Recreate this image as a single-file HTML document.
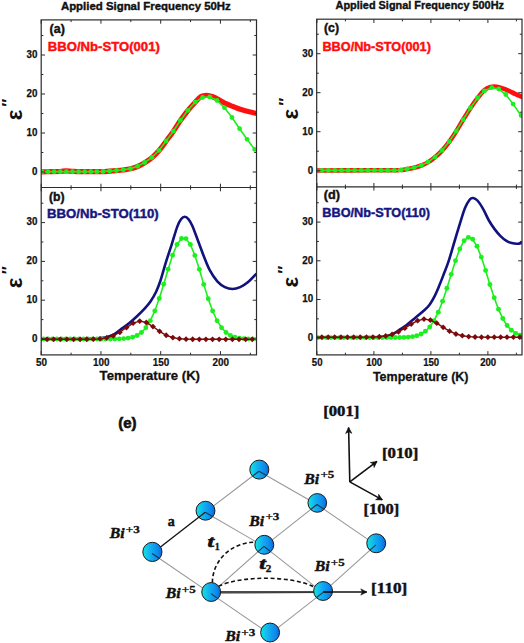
<!DOCTYPE html>
<html><head><meta charset="utf-8"><title>Figure</title>
<style>
html,body{margin:0;padding:0;background:#fff;}
body{width:524px;height:643px;overflow:hidden;font-family:"Liberation Sans",sans-serif;}
svg{display:block;}
</style></head><body>
<svg width="524" height="643" viewBox="0 0 524 643">
<rect width="524" height="643" fill="#fff"/>
<clipPath id="cl"><rect x="41.2" y="19.9" width="215.3" height="335.0"/></clipPath>
<clipPath id="cr"><rect x="316.7" y="19.2" width="205.3" height="335.7"/></clipPath>
<path d="M41.20,171.80 C42.67,171.78 46.87,171.75 50.00,171.70 C53.13,171.65 57.33,171.63 60.00,171.50 C62.67,171.37 64.00,170.93 66.00,170.90 C68.00,170.87 69.67,171.17 72.00,171.30 C74.33,171.43 76.17,171.65 80.00,171.70 C83.83,171.75 91.15,171.60 95.00,171.60 C98.85,171.60 100.67,171.78 103.10,171.70 C105.53,171.62 107.37,171.27 109.60,171.10 C111.83,170.93 114.20,170.88 116.50,170.70 C118.80,170.52 121.07,170.32 123.40,170.00 C125.73,169.68 128.13,169.38 130.50,168.80 C132.87,168.22 135.23,167.52 137.60,166.50 C139.97,165.48 142.32,164.17 144.70,162.70 C147.08,161.23 149.50,159.73 151.90,157.70 C154.30,155.67 156.73,153.25 159.10,150.50 C161.47,147.75 163.73,144.38 166.10,141.20 C168.47,138.02 170.92,134.83 173.30,131.40 C175.68,127.97 177.97,124.08 180.40,120.60 C182.83,117.12 185.43,113.55 187.90,110.50 C190.37,107.45 193.02,104.62 195.20,102.30 C197.38,99.98 199.08,97.75 201.00,96.60 C202.92,95.45 204.75,95.37 206.70,95.40 C208.65,95.43 210.58,96.03 212.70,96.80 C214.82,97.57 217.18,98.85 219.40,100.00 C221.62,101.15 223.78,102.63 226.00,103.70 C228.22,104.77 230.47,105.52 232.70,106.40 C234.93,107.28 237.17,108.23 239.40,109.00 C241.63,109.77 243.25,110.27 246.10,111.00 C248.95,111.73 254.77,113.00 256.50,113.40" fill="none" stroke="#ff1010" stroke-width="5.2" stroke-linecap="round" stroke-linejoin="round" clip-path="url(#cl)"/>
<g clip-path="url(#cl)"><path d="M42.00,171.70 L48.10,171.70 L54.20,171.70 L60.30,171.70 L66.40,171.70 L72.50,171.70 L78.60,171.70 L84.70,171.70 L90.80,171.70 L96.90,171.70 L103.10,171.50 L109.60,170.90 L116.50,170.50 L123.40,169.80 L130.50,168.60 L137.60,166.30 L144.70,162.50 L151.90,157.50 L159.10,150.30 L166.10,141.00 L173.30,131.20 L180.40,120.40 L187.90,110.30 L195.20,102.10 L202.60,97.50 L209.80,96.90 L217.00,100.50 L224.50,107.70 L232.00,117.50 L239.60,128.70 L247.10,139.30 L254.70,149.40" fill="none" stroke="#1cf01c" stroke-width="1.6"/>
<circle cx="42.00" cy="171.70" r="2.4" fill="#1cf01c"/>
<circle cx="48.10" cy="171.70" r="2.4" fill="#1cf01c"/>
<circle cx="54.20" cy="171.70" r="2.4" fill="#1cf01c"/>
<circle cx="60.30" cy="171.70" r="2.4" fill="#1cf01c"/>
<circle cx="66.40" cy="171.70" r="2.4" fill="#1cf01c"/>
<circle cx="72.50" cy="171.70" r="2.4" fill="#1cf01c"/>
<circle cx="78.60" cy="171.70" r="2.4" fill="#1cf01c"/>
<circle cx="84.70" cy="171.70" r="2.4" fill="#1cf01c"/>
<circle cx="90.80" cy="171.70" r="2.4" fill="#1cf01c"/>
<circle cx="96.90" cy="171.70" r="2.4" fill="#1cf01c"/>
<circle cx="103.10" cy="171.50" r="2.4" fill="#1cf01c"/>
<circle cx="109.60" cy="170.90" r="2.4" fill="#1cf01c"/>
<circle cx="116.50" cy="170.50" r="2.4" fill="#1cf01c"/>
<circle cx="123.40" cy="169.80" r="2.4" fill="#1cf01c"/>
<circle cx="130.50" cy="168.60" r="2.4" fill="#1cf01c"/>
<circle cx="137.60" cy="166.30" r="2.4" fill="#1cf01c"/>
<circle cx="144.70" cy="162.50" r="2.4" fill="#1cf01c"/>
<circle cx="151.90" cy="157.50" r="2.4" fill="#1cf01c"/>
<circle cx="159.10" cy="150.30" r="2.4" fill="#1cf01c"/>
<circle cx="166.10" cy="141.00" r="2.4" fill="#1cf01c"/>
<circle cx="173.30" cy="131.20" r="2.4" fill="#1cf01c"/>
<circle cx="180.40" cy="120.40" r="2.4" fill="#1cf01c"/>
<circle cx="187.90" cy="110.30" r="2.4" fill="#1cf01c"/>
<circle cx="195.20" cy="102.10" r="2.4" fill="#1cf01c"/>
<circle cx="202.60" cy="97.50" r="2.4" fill="#1cf01c"/>
<circle cx="209.80" cy="96.90" r="2.4" fill="#1cf01c"/>
<circle cx="217.00" cy="100.50" r="2.4" fill="#1cf01c"/>
<circle cx="224.50" cy="107.70" r="2.4" fill="#1cf01c"/>
<circle cx="232.00" cy="117.50" r="2.4" fill="#1cf01c"/>
<circle cx="239.60" cy="128.70" r="2.4" fill="#1cf01c"/>
<circle cx="247.10" cy="139.30" r="2.4" fill="#1cf01c"/>
<circle cx="254.70" cy="149.40" r="2.4" fill="#1cf01c"/>
</g>
<path d="M316.90,170.50 C322.42,170.48 336.98,170.45 350.00,170.40 C363.02,170.35 386.52,170.23 395.00,170.20 C403.48,170.17 398.88,170.38 400.90,170.20 C402.92,170.02 404.88,169.50 407.10,169.10 C409.32,168.70 411.83,168.40 414.20,167.80 C416.57,167.20 419.02,166.40 421.30,165.50 C423.58,164.60 425.62,163.78 427.90,162.40 C430.18,161.02 432.63,159.17 435.00,157.20 C437.37,155.23 439.73,153.17 442.10,150.60 C444.47,148.03 446.83,145.03 449.20,141.80 C451.57,138.57 453.98,134.87 456.30,131.20 C458.62,127.53 460.75,123.63 463.10,119.80 C465.45,115.97 468.00,111.80 470.40,108.20 C472.80,104.60 475.15,101.23 477.50,98.20 C479.85,95.17 482.33,91.87 484.50,90.00 C486.67,88.13 488.48,87.53 490.50,87.00 C492.52,86.47 494.57,86.57 496.60,86.80 C498.63,87.03 500.65,87.72 502.70,88.40 C504.75,89.08 506.85,89.98 508.90,90.90 C510.95,91.82 512.82,92.90 515.00,93.90 C517.18,94.90 520.83,96.40 522.00,96.90" fill="none" stroke="#ff1010" stroke-width="4.6" stroke-linecap="round" stroke-linejoin="round" clip-path="url(#cr)"/>
<g clip-path="url(#cr)"><path d="M315.10,170.40 L321.70,170.40 L328.30,170.40 L334.90,170.40 L341.50,170.40 L348.10,170.40 L354.70,170.40 L361.30,170.40 L367.90,170.40 L374.50,170.40 L381.10,170.40 L387.70,170.40 L394.30,170.40 L400.90,170.00 L407.10,168.90 L414.20,167.60 L421.30,165.30 L427.90,162.20 L435.00,157.00 L442.10,150.40 L449.20,141.60 L456.30,131.00 L463.10,119.60 L470.40,108.00 L477.50,98.00 L484.40,90.90 L491.80,87.60 L498.80,89.00 L505.80,94.50 L513.10,104.10 L521.10,115.50" fill="none" stroke="#1cf01c" stroke-width="1.6"/>
<circle cx="315.10" cy="170.40" r="2.4" fill="#1cf01c"/>
<circle cx="321.70" cy="170.40" r="2.4" fill="#1cf01c"/>
<circle cx="328.30" cy="170.40" r="2.4" fill="#1cf01c"/>
<circle cx="334.90" cy="170.40" r="2.4" fill="#1cf01c"/>
<circle cx="341.50" cy="170.40" r="2.4" fill="#1cf01c"/>
<circle cx="348.10" cy="170.40" r="2.4" fill="#1cf01c"/>
<circle cx="354.70" cy="170.40" r="2.4" fill="#1cf01c"/>
<circle cx="361.30" cy="170.40" r="2.4" fill="#1cf01c"/>
<circle cx="367.90" cy="170.40" r="2.4" fill="#1cf01c"/>
<circle cx="374.50" cy="170.40" r="2.4" fill="#1cf01c"/>
<circle cx="381.10" cy="170.40" r="2.4" fill="#1cf01c"/>
<circle cx="387.70" cy="170.40" r="2.4" fill="#1cf01c"/>
<circle cx="394.30" cy="170.40" r="2.4" fill="#1cf01c"/>
<circle cx="400.90" cy="170.00" r="2.4" fill="#1cf01c"/>
<circle cx="407.10" cy="168.90" r="2.4" fill="#1cf01c"/>
<circle cx="414.20" cy="167.60" r="2.4" fill="#1cf01c"/>
<circle cx="421.30" cy="165.30" r="2.4" fill="#1cf01c"/>
<circle cx="427.90" cy="162.20" r="2.4" fill="#1cf01c"/>
<circle cx="435.00" cy="157.00" r="2.4" fill="#1cf01c"/>
<circle cx="442.10" cy="150.40" r="2.4" fill="#1cf01c"/>
<circle cx="449.20" cy="141.60" r="2.4" fill="#1cf01c"/>
<circle cx="456.30" cy="131.00" r="2.4" fill="#1cf01c"/>
<circle cx="463.10" cy="119.60" r="2.4" fill="#1cf01c"/>
<circle cx="470.40" cy="108.00" r="2.4" fill="#1cf01c"/>
<circle cx="477.50" cy="98.00" r="2.4" fill="#1cf01c"/>
<circle cx="484.40" cy="90.90" r="2.4" fill="#1cf01c"/>
<circle cx="491.80" cy="87.60" r="2.4" fill="#1cf01c"/>
<circle cx="498.80" cy="89.00" r="2.4" fill="#1cf01c"/>
<circle cx="505.80" cy="94.50" r="2.4" fill="#1cf01c"/>
<circle cx="513.10" cy="104.10" r="2.4" fill="#1cf01c"/>
<circle cx="521.10" cy="115.50" r="2.4" fill="#1cf01c"/>
</g>
<path d="M41.20,339.00 C47.67,339.00 71.03,339.08 80.00,339.00 C88.97,338.92 91.17,338.68 95.00,338.50 C98.83,338.32 100.83,338.22 103.00,337.90 C105.17,337.58 106.15,337.18 108.00,336.60 C109.85,336.02 111.82,335.73 114.10,334.40 C116.38,333.07 119.15,330.52 121.70,328.60 C124.25,326.68 126.85,324.97 129.40,322.90 C131.95,320.83 134.47,318.58 137.00,316.20 C139.53,313.82 142.35,311.05 144.60,308.60 C146.85,306.15 148.60,304.27 150.50,301.50 C152.40,298.73 154.33,295.50 156.00,292.00 C157.67,288.50 158.88,285.37 160.50,280.50 C162.12,275.63 163.87,268.70 165.70,262.80 C167.53,256.90 169.58,251.08 171.50,245.10 C173.42,239.12 175.62,231.20 177.20,226.90 C178.78,222.60 179.73,220.98 181.00,219.30 C182.27,217.62 183.53,216.80 184.80,216.80 C186.07,216.80 187.33,217.77 188.60,219.30 C189.87,220.83 190.80,222.33 192.40,226.00 C194.00,229.67 196.28,236.22 198.20,241.30 C200.12,246.38 202.00,251.73 203.90,256.50 C205.80,261.27 207.37,265.77 209.60,269.90 C211.83,274.03 214.75,278.43 217.30,281.30 C219.85,284.17 222.37,285.82 224.90,287.10 C227.43,288.38 229.95,289.00 232.50,289.00 C235.05,289.00 237.65,288.22 240.20,287.10 C242.75,285.98 245.08,284.55 247.80,282.30 C250.52,280.05 255.05,275.05 256.50,273.60" fill="none" stroke="#12127e" stroke-width="2.6" stroke-linejoin="round" clip-path="url(#cl)"/>
<g clip-path="url(#cl)"><path d="M43.55,339.00 L48.00,339.00 L52.45,339.00 L56.90,339.00 L61.35,339.00 L65.80,339.00 L70.25,339.00 L74.70,339.00 L79.15,339.00 L83.60,339.00 L88.05,339.00 L92.50,339.00 L96.95,339.00 L101.40,339.00 L105.85,338.99 L110.30,338.97 L114.75,338.93 L119.20,338.83 L123.65,338.60 L128.10,338.12 L132.55,337.17 L137.00,335.44 L141.45,332.46 L145.90,327.71 L150.35,320.64 L154.80,310.91 L159.25,298.57 L163.70,284.23 L168.15,269.17 L172.60,255.24 L177.05,244.44 L181.50,238.55 L185.95,238.58 L190.40,244.54 L194.85,255.38 L199.30,269.34 L203.75,284.39 L208.20,298.72 L212.65,311.04 L217.10,320.73 L221.55,327.77 L226.00,332.50 L230.45,335.46 L234.90,337.19 L239.35,338.13 L243.80,338.60 L248.25,338.83 L252.70,338.93 L257.15,338.97" fill="none" stroke="#1cf01c" stroke-width="1.6"/>
<circle cx="43.55" cy="339.00" r="2.45" fill="#1cf01c"/>
<circle cx="48.00" cy="339.00" r="2.45" fill="#1cf01c"/>
<circle cx="52.45" cy="339.00" r="2.45" fill="#1cf01c"/>
<circle cx="56.90" cy="339.00" r="2.45" fill="#1cf01c"/>
<circle cx="61.35" cy="339.00" r="2.45" fill="#1cf01c"/>
<circle cx="65.80" cy="339.00" r="2.45" fill="#1cf01c"/>
<circle cx="70.25" cy="339.00" r="2.45" fill="#1cf01c"/>
<circle cx="74.70" cy="339.00" r="2.45" fill="#1cf01c"/>
<circle cx="79.15" cy="339.00" r="2.45" fill="#1cf01c"/>
<circle cx="83.60" cy="339.00" r="2.45" fill="#1cf01c"/>
<circle cx="88.05" cy="339.00" r="2.45" fill="#1cf01c"/>
<circle cx="92.50" cy="339.00" r="2.45" fill="#1cf01c"/>
<circle cx="96.95" cy="339.00" r="2.45" fill="#1cf01c"/>
<circle cx="101.40" cy="339.00" r="2.45" fill="#1cf01c"/>
<circle cx="105.85" cy="338.99" r="2.45" fill="#1cf01c"/>
<circle cx="110.30" cy="338.97" r="2.45" fill="#1cf01c"/>
<circle cx="114.75" cy="338.93" r="2.45" fill="#1cf01c"/>
<circle cx="119.20" cy="338.83" r="2.45" fill="#1cf01c"/>
<circle cx="123.65" cy="338.60" r="2.45" fill="#1cf01c"/>
<circle cx="128.10" cy="338.12" r="2.45" fill="#1cf01c"/>
<circle cx="132.55" cy="337.17" r="2.45" fill="#1cf01c"/>
<circle cx="137.00" cy="335.44" r="2.45" fill="#1cf01c"/>
<circle cx="141.45" cy="332.46" r="2.45" fill="#1cf01c"/>
<circle cx="145.90" cy="327.71" r="2.45" fill="#1cf01c"/>
<circle cx="150.35" cy="320.64" r="2.45" fill="#1cf01c"/>
<circle cx="154.80" cy="310.91" r="2.45" fill="#1cf01c"/>
<circle cx="159.25" cy="298.57" r="2.45" fill="#1cf01c"/>
<circle cx="163.70" cy="284.23" r="2.45" fill="#1cf01c"/>
<circle cx="168.15" cy="269.17" r="2.45" fill="#1cf01c"/>
<circle cx="172.60" cy="255.24" r="2.45" fill="#1cf01c"/>
<circle cx="177.05" cy="244.44" r="2.45" fill="#1cf01c"/>
<circle cx="181.50" cy="238.55" r="2.45" fill="#1cf01c"/>
<circle cx="185.95" cy="238.58" r="2.45" fill="#1cf01c"/>
<circle cx="190.40" cy="244.54" r="2.45" fill="#1cf01c"/>
<circle cx="194.85" cy="255.38" r="2.45" fill="#1cf01c"/>
<circle cx="199.30" cy="269.34" r="2.45" fill="#1cf01c"/>
<circle cx="203.75" cy="284.39" r="2.45" fill="#1cf01c"/>
<circle cx="208.20" cy="298.72" r="2.45" fill="#1cf01c"/>
<circle cx="212.65" cy="311.04" r="2.45" fill="#1cf01c"/>
<circle cx="217.10" cy="320.73" r="2.45" fill="#1cf01c"/>
<circle cx="221.55" cy="327.77" r="2.45" fill="#1cf01c"/>
<circle cx="226.00" cy="332.50" r="2.45" fill="#1cf01c"/>
<circle cx="230.45" cy="335.46" r="2.45" fill="#1cf01c"/>
<circle cx="234.90" cy="337.19" r="2.45" fill="#1cf01c"/>
<circle cx="239.35" cy="338.13" r="2.45" fill="#1cf01c"/>
<circle cx="243.80" cy="338.60" r="2.45" fill="#1cf01c"/>
<circle cx="248.25" cy="338.83" r="2.45" fill="#1cf01c"/>
<circle cx="252.70" cy="338.93" r="2.45" fill="#1cf01c"/>
<circle cx="257.15" cy="338.97" r="2.45" fill="#1cf01c"/>
</g>
<g clip-path="url(#cl)"><path d="M40.42,339.30 L47.04,339.30 L53.66,339.30 L60.28,339.30 L66.90,339.30 L73.52,339.30 L80.14,339.30 L86.76,339.27 L93.38,339.18 L100.00,338.84 L106.62,337.92 L113.24,335.86 L119.86,332.28 L126.48,327.55 L133.10,323.16 L139.72,321.12 L146.34,322.49 L152.96,326.55 L159.58,331.37 L166.20,335.25 L172.82,337.60 L179.44,338.72 L186.06,339.14 L192.68,339.26 L199.30,339.29 L205.92,339.30 L212.54,339.30 L219.16,339.30 L225.78,339.30 L232.40,339.30 L239.02,339.30 L245.64,339.30 L252.26,339.30" fill="none" stroke="#7c0a0a" stroke-width="1.4"/>
<path d="M40.42,336.40 L43.32,339.30 L40.42,342.20 L37.52,339.30Z" fill="#7c0a0a"/>
<path d="M47.04,336.40 L49.94,339.30 L47.04,342.20 L44.14,339.30Z" fill="#7c0a0a"/>
<path d="M53.66,336.40 L56.56,339.30 L53.66,342.20 L50.76,339.30Z" fill="#7c0a0a"/>
<path d="M60.28,336.40 L63.18,339.30 L60.28,342.20 L57.38,339.30Z" fill="#7c0a0a"/>
<path d="M66.90,336.40 L69.80,339.30 L66.90,342.20 L64.00,339.30Z" fill="#7c0a0a"/>
<path d="M73.52,336.40 L76.42,339.30 L73.52,342.20 L70.62,339.30Z" fill="#7c0a0a"/>
<path d="M80.14,336.40 L83.04,339.30 L80.14,342.20 L77.24,339.30Z" fill="#7c0a0a"/>
<path d="M86.76,336.37 L89.66,339.27 L86.76,342.17 L83.86,339.27Z" fill="#7c0a0a"/>
<path d="M93.38,336.28 L96.28,339.18 L93.38,342.08 L90.48,339.18Z" fill="#7c0a0a"/>
<path d="M100.00,335.94 L102.90,338.84 L100.00,341.74 L97.10,338.84Z" fill="#7c0a0a"/>
<path d="M106.62,335.02 L109.52,337.92 L106.62,340.82 L103.72,337.92Z" fill="#7c0a0a"/>
<path d="M113.24,332.96 L116.14,335.86 L113.24,338.76 L110.34,335.86Z" fill="#7c0a0a"/>
<path d="M119.86,329.38 L122.76,332.28 L119.86,335.18 L116.96,332.28Z" fill="#7c0a0a"/>
<path d="M126.48,324.65 L129.38,327.55 L126.48,330.45 L123.58,327.55Z" fill="#7c0a0a"/>
<path d="M133.10,320.26 L136.00,323.16 L133.10,326.06 L130.20,323.16Z" fill="#7c0a0a"/>
<path d="M139.72,318.22 L142.62,321.12 L139.72,324.02 L136.82,321.12Z" fill="#7c0a0a"/>
<path d="M146.34,319.59 L149.24,322.49 L146.34,325.39 L143.44,322.49Z" fill="#7c0a0a"/>
<path d="M152.96,323.65 L155.86,326.55 L152.96,329.45 L150.06,326.55Z" fill="#7c0a0a"/>
<path d="M159.58,328.47 L162.48,331.37 L159.58,334.27 L156.68,331.37Z" fill="#7c0a0a"/>
<path d="M166.20,332.35 L169.10,335.25 L166.20,338.15 L163.30,335.25Z" fill="#7c0a0a"/>
<path d="M172.82,334.70 L175.72,337.60 L172.82,340.50 L169.92,337.60Z" fill="#7c0a0a"/>
<path d="M179.44,335.82 L182.34,338.72 L179.44,341.62 L176.54,338.72Z" fill="#7c0a0a"/>
<path d="M186.06,336.24 L188.96,339.14 L186.06,342.04 L183.16,339.14Z" fill="#7c0a0a"/>
<path d="M192.68,336.36 L195.58,339.26 L192.68,342.16 L189.78,339.26Z" fill="#7c0a0a"/>
<path d="M199.30,336.39 L202.20,339.29 L199.30,342.19 L196.40,339.29Z" fill="#7c0a0a"/>
<path d="M205.92,336.40 L208.82,339.30 L205.92,342.20 L203.02,339.30Z" fill="#7c0a0a"/>
<path d="M212.54,336.40 L215.44,339.30 L212.54,342.20 L209.64,339.30Z" fill="#7c0a0a"/>
<path d="M219.16,336.40 L222.06,339.30 L219.16,342.20 L216.26,339.30Z" fill="#7c0a0a"/>
<path d="M225.78,336.40 L228.68,339.30 L225.78,342.20 L222.88,339.30Z" fill="#7c0a0a"/>
<path d="M232.40,336.40 L235.30,339.30 L232.40,342.20 L229.50,339.30Z" fill="#7c0a0a"/>
<path d="M239.02,336.40 L241.92,339.30 L239.02,342.20 L236.12,339.30Z" fill="#7c0a0a"/>
<path d="M245.64,336.40 L248.54,339.30 L245.64,342.20 L242.74,339.30Z" fill="#7c0a0a"/>
<path d="M252.26,336.40 L255.16,339.30 L252.26,342.20 L249.36,339.30Z" fill="#7c0a0a"/>
</g>
<path d="M316.90,337.60 C325.75,337.58 359.15,337.62 370.00,337.50 C380.85,337.38 378.82,337.22 382.00,336.90 C385.18,336.58 386.97,336.27 389.10,335.60 C391.23,334.93 392.90,333.98 394.80,332.90 C396.70,331.82 398.58,330.37 400.50,329.10 C402.42,327.83 404.38,326.73 406.30,325.30 C408.22,323.87 410.10,322.08 412.00,320.50 C413.90,318.92 415.80,317.38 417.70,315.80 C419.60,314.22 421.48,312.75 423.40,311.00 C425.32,309.25 427.28,307.85 429.20,305.30 C431.12,302.75 433.35,298.67 434.90,295.70 C436.45,292.73 437.13,290.80 438.50,287.50 C439.87,284.20 441.38,280.38 443.10,275.90 C444.82,271.42 446.90,266.33 448.80,260.60 C450.70,254.87 452.58,247.87 454.50,241.50 C456.42,235.13 458.55,227.97 460.30,222.40 C462.05,216.83 463.42,211.92 465.00,208.10 C466.58,204.28 468.43,201.18 469.80,199.50 C471.17,197.82 471.93,197.83 473.20,198.00 C474.47,198.17 475.73,198.65 477.40,200.50 C479.07,202.35 481.28,205.77 483.20,209.10 C485.12,212.43 487.00,217.17 488.90,220.50 C490.80,223.83 492.70,226.55 494.60,229.10 C496.50,231.65 498.38,233.88 500.30,235.80 C502.22,237.72 504.18,239.38 506.10,240.60 C508.02,241.82 509.90,242.57 511.80,243.10 C513.70,243.63 515.80,243.87 517.50,243.80 C519.20,243.73 521.25,242.88 522.00,242.70" fill="none" stroke="#12127e" stroke-width="2.6" stroke-linejoin="round" clip-path="url(#cr)"/>
<g clip-path="url(#cr)"><path d="M317.90,337.60 L322.20,337.60 L326.50,337.60 L330.80,337.60 L335.10,337.60 L339.40,337.60 L343.70,337.60 L348.00,337.60 L352.30,337.60 L356.60,337.60 L360.90,337.60 L365.20,337.60 L369.50,337.60 L373.80,337.60 L378.10,337.60 L382.40,337.60 L386.70,337.59 L391.00,337.59 L395.30,337.56 L399.60,337.51 L403.90,337.39 L408.20,337.14 L412.50,336.63 L416.80,335.69 L421.10,334.04 L425.40,331.28 L429.70,326.99 L434.00,320.72 L438.30,312.14 L442.60,301.21 L446.90,288.31 L451.20,274.34 L455.50,260.66 L459.80,248.92 L464.10,240.74 L468.40,237.35 L472.70,239.28 L477.00,246.22 L481.30,257.11 L485.60,270.42 L489.90,284.47 L494.20,297.78 L498.50,309.32 L502.80,318.56 L507.10,325.46 L511.40,330.26 L515.70,333.40 L520.00,335.32" fill="none" stroke="#1cf01c" stroke-width="1.6"/>
<circle cx="317.90" cy="337.60" r="2.45" fill="#1cf01c"/>
<circle cx="322.20" cy="337.60" r="2.45" fill="#1cf01c"/>
<circle cx="326.50" cy="337.60" r="2.45" fill="#1cf01c"/>
<circle cx="330.80" cy="337.60" r="2.45" fill="#1cf01c"/>
<circle cx="335.10" cy="337.60" r="2.45" fill="#1cf01c"/>
<circle cx="339.40" cy="337.60" r="2.45" fill="#1cf01c"/>
<circle cx="343.70" cy="337.60" r="2.45" fill="#1cf01c"/>
<circle cx="348.00" cy="337.60" r="2.45" fill="#1cf01c"/>
<circle cx="352.30" cy="337.60" r="2.45" fill="#1cf01c"/>
<circle cx="356.60" cy="337.60" r="2.45" fill="#1cf01c"/>
<circle cx="360.90" cy="337.60" r="2.45" fill="#1cf01c"/>
<circle cx="365.20" cy="337.60" r="2.45" fill="#1cf01c"/>
<circle cx="369.50" cy="337.60" r="2.45" fill="#1cf01c"/>
<circle cx="373.80" cy="337.60" r="2.45" fill="#1cf01c"/>
<circle cx="378.10" cy="337.60" r="2.45" fill="#1cf01c"/>
<circle cx="382.40" cy="337.60" r="2.45" fill="#1cf01c"/>
<circle cx="386.70" cy="337.59" r="2.45" fill="#1cf01c"/>
<circle cx="391.00" cy="337.59" r="2.45" fill="#1cf01c"/>
<circle cx="395.30" cy="337.56" r="2.45" fill="#1cf01c"/>
<circle cx="399.60" cy="337.51" r="2.45" fill="#1cf01c"/>
<circle cx="403.90" cy="337.39" r="2.45" fill="#1cf01c"/>
<circle cx="408.20" cy="337.14" r="2.45" fill="#1cf01c"/>
<circle cx="412.50" cy="336.63" r="2.45" fill="#1cf01c"/>
<circle cx="416.80" cy="335.69" r="2.45" fill="#1cf01c"/>
<circle cx="421.10" cy="334.04" r="2.45" fill="#1cf01c"/>
<circle cx="425.40" cy="331.28" r="2.45" fill="#1cf01c"/>
<circle cx="429.70" cy="326.99" r="2.45" fill="#1cf01c"/>
<circle cx="434.00" cy="320.72" r="2.45" fill="#1cf01c"/>
<circle cx="438.30" cy="312.14" r="2.45" fill="#1cf01c"/>
<circle cx="442.60" cy="301.21" r="2.45" fill="#1cf01c"/>
<circle cx="446.90" cy="288.31" r="2.45" fill="#1cf01c"/>
<circle cx="451.20" cy="274.34" r="2.45" fill="#1cf01c"/>
<circle cx="455.50" cy="260.66" r="2.45" fill="#1cf01c"/>
<circle cx="459.80" cy="248.92" r="2.45" fill="#1cf01c"/>
<circle cx="464.10" cy="240.74" r="2.45" fill="#1cf01c"/>
<circle cx="468.40" cy="237.35" r="2.45" fill="#1cf01c"/>
<circle cx="472.70" cy="239.28" r="2.45" fill="#1cf01c"/>
<circle cx="477.00" cy="246.22" r="2.45" fill="#1cf01c"/>
<circle cx="481.30" cy="257.11" r="2.45" fill="#1cf01c"/>
<circle cx="485.60" cy="270.42" r="2.45" fill="#1cf01c"/>
<circle cx="489.90" cy="284.47" r="2.45" fill="#1cf01c"/>
<circle cx="494.20" cy="297.78" r="2.45" fill="#1cf01c"/>
<circle cx="498.50" cy="309.32" r="2.45" fill="#1cf01c"/>
<circle cx="502.80" cy="318.56" r="2.45" fill="#1cf01c"/>
<circle cx="507.10" cy="325.46" r="2.45" fill="#1cf01c"/>
<circle cx="511.40" cy="330.26" r="2.45" fill="#1cf01c"/>
<circle cx="515.70" cy="333.40" r="2.45" fill="#1cf01c"/>
<circle cx="520.00" cy="335.32" r="2.45" fill="#1cf01c"/>
</g>
<g clip-path="url(#cr)"><path d="M315.42,337.20 L321.80,337.20 L328.19,337.20 L334.58,337.20 L340.96,337.20 L347.35,337.20 L353.74,337.20 L360.13,337.19 L366.51,337.16 L372.90,337.04 L379.29,336.73 L385.67,335.98 L392.06,334.46 L398.45,331.86 L404.83,328.20 L411.22,324.08 L417.61,320.64 L424.00,319.12 L430.38,320.11 L436.77,323.22 L443.16,327.30 L449.54,331.14 L455.93,333.98 L462.32,335.72 L468.70,336.61 L475.09,337.00 L481.48,337.14 L487.87,337.18 L494.25,337.20 L500.64,337.20 L507.03,337.20 L513.41,337.20 L519.80,337.20" fill="none" stroke="#7c0a0a" stroke-width="1.4"/>
<path d="M315.42,334.30 L318.32,337.20 L315.42,340.10 L312.52,337.20Z" fill="#7c0a0a"/>
<path d="M321.80,334.30 L324.70,337.20 L321.80,340.10 L318.90,337.20Z" fill="#7c0a0a"/>
<path d="M328.19,334.30 L331.09,337.20 L328.19,340.10 L325.29,337.20Z" fill="#7c0a0a"/>
<path d="M334.58,334.30 L337.48,337.20 L334.58,340.10 L331.68,337.20Z" fill="#7c0a0a"/>
<path d="M340.96,334.30 L343.86,337.20 L340.96,340.10 L338.06,337.20Z" fill="#7c0a0a"/>
<path d="M347.35,334.30 L350.25,337.20 L347.35,340.10 L344.45,337.20Z" fill="#7c0a0a"/>
<path d="M353.74,334.30 L356.64,337.20 L353.74,340.10 L350.84,337.20Z" fill="#7c0a0a"/>
<path d="M360.13,334.29 L363.03,337.19 L360.13,340.09 L357.23,337.19Z" fill="#7c0a0a"/>
<path d="M366.51,334.26 L369.41,337.16 L366.51,340.06 L363.61,337.16Z" fill="#7c0a0a"/>
<path d="M372.90,334.14 L375.80,337.04 L372.90,339.94 L370.00,337.04Z" fill="#7c0a0a"/>
<path d="M379.29,333.83 L382.19,336.73 L379.29,339.63 L376.39,336.73Z" fill="#7c0a0a"/>
<path d="M385.67,333.08 L388.57,335.98 L385.67,338.88 L382.77,335.98Z" fill="#7c0a0a"/>
<path d="M392.06,331.56 L394.96,334.46 L392.06,337.36 L389.16,334.46Z" fill="#7c0a0a"/>
<path d="M398.45,328.96 L401.35,331.86 L398.45,334.76 L395.55,331.86Z" fill="#7c0a0a"/>
<path d="M404.83,325.30 L407.73,328.20 L404.83,331.10 L401.94,328.20Z" fill="#7c0a0a"/>
<path d="M411.22,321.18 L414.12,324.08 L411.22,326.98 L408.32,324.08Z" fill="#7c0a0a"/>
<path d="M417.61,317.74 L420.51,320.64 L417.61,323.54 L414.71,320.64Z" fill="#7c0a0a"/>
<path d="M424.00,316.22 L426.90,319.12 L424.00,322.02 L421.10,319.12Z" fill="#7c0a0a"/>
<path d="M430.38,317.21 L433.28,320.11 L430.38,323.01 L427.48,320.11Z" fill="#7c0a0a"/>
<path d="M436.77,320.32 L439.67,323.22 L436.77,326.12 L433.87,323.22Z" fill="#7c0a0a"/>
<path d="M443.16,324.40 L446.06,327.30 L443.16,330.20 L440.26,327.30Z" fill="#7c0a0a"/>
<path d="M449.54,328.24 L452.44,331.14 L449.54,334.04 L446.64,331.14Z" fill="#7c0a0a"/>
<path d="M455.93,331.08 L458.83,333.98 L455.93,336.88 L453.03,333.98Z" fill="#7c0a0a"/>
<path d="M462.32,332.82 L465.22,335.72 L462.32,338.62 L459.42,335.72Z" fill="#7c0a0a"/>
<path d="M468.70,333.71 L471.60,336.61 L468.70,339.51 L465.81,336.61Z" fill="#7c0a0a"/>
<path d="M475.09,334.10 L477.99,337.00 L475.09,339.90 L472.19,337.00Z" fill="#7c0a0a"/>
<path d="M481.48,334.24 L484.38,337.14 L481.48,340.04 L478.58,337.14Z" fill="#7c0a0a"/>
<path d="M487.87,334.28 L490.77,337.18 L487.87,340.08 L484.97,337.18Z" fill="#7c0a0a"/>
<path d="M494.25,334.30 L497.15,337.20 L494.25,340.10 L491.35,337.20Z" fill="#7c0a0a"/>
<path d="M500.64,334.30 L503.54,337.20 L500.64,340.10 L497.74,337.20Z" fill="#7c0a0a"/>
<path d="M507.03,334.30 L509.93,337.20 L507.03,340.10 L504.13,337.20Z" fill="#7c0a0a"/>
<path d="M513.41,334.30 L516.31,337.20 L513.41,340.10 L510.51,337.20Z" fill="#7c0a0a"/>
<path d="M519.80,334.30 L522.70,337.20 L519.80,340.10 L516.90,337.20Z" fill="#7c0a0a"/>
</g>
<rect x="41.2" y="19.9" width="215.3" height="335.0" fill="none" stroke="#2b2b2b" stroke-width="1.2"/>
<line x1="41.2" y1="187.5" x2="256.5" y2="187.5" stroke="#2b2b2b" stroke-width="1.2"/>
<line x1="41.20" y1="19.9" x2="41.20" y2="23.70" stroke="#2b2b2b" stroke-width="1"/>
<line x1="41.20" y1="187.5" x2="41.20" y2="183.70" stroke="#2b2b2b" stroke-width="1"/>
<line x1="41.20" y1="187.5" x2="41.20" y2="191.30" stroke="#2b2b2b" stroke-width="1"/>
<line x1="41.20" y1="354.9" x2="41.20" y2="351.10" stroke="#2b2b2b" stroke-width="1"/>
<line x1="71.08" y1="19.9" x2="71.08" y2="22.10" stroke="#2b2b2b" stroke-width="1"/>
<line x1="71.08" y1="187.5" x2="71.08" y2="185.30" stroke="#2b2b2b" stroke-width="1"/>
<line x1="71.08" y1="187.5" x2="71.08" y2="189.70" stroke="#2b2b2b" stroke-width="1"/>
<line x1="71.08" y1="354.9" x2="71.08" y2="352.70" stroke="#2b2b2b" stroke-width="1"/>
<line x1="100.95" y1="19.9" x2="100.95" y2="23.70" stroke="#2b2b2b" stroke-width="1"/>
<line x1="100.95" y1="187.5" x2="100.95" y2="183.70" stroke="#2b2b2b" stroke-width="1"/>
<line x1="100.95" y1="187.5" x2="100.95" y2="191.30" stroke="#2b2b2b" stroke-width="1"/>
<line x1="100.95" y1="354.9" x2="100.95" y2="351.10" stroke="#2b2b2b" stroke-width="1"/>
<line x1="130.82" y1="19.9" x2="130.82" y2="22.10" stroke="#2b2b2b" stroke-width="1"/>
<line x1="130.82" y1="187.5" x2="130.82" y2="185.30" stroke="#2b2b2b" stroke-width="1"/>
<line x1="130.82" y1="187.5" x2="130.82" y2="189.70" stroke="#2b2b2b" stroke-width="1"/>
<line x1="130.82" y1="354.9" x2="130.82" y2="352.70" stroke="#2b2b2b" stroke-width="1"/>
<line x1="160.70" y1="19.9" x2="160.70" y2="23.70" stroke="#2b2b2b" stroke-width="1"/>
<line x1="160.70" y1="187.5" x2="160.70" y2="183.70" stroke="#2b2b2b" stroke-width="1"/>
<line x1="160.70" y1="187.5" x2="160.70" y2="191.30" stroke="#2b2b2b" stroke-width="1"/>
<line x1="160.70" y1="354.9" x2="160.70" y2="351.10" stroke="#2b2b2b" stroke-width="1"/>
<line x1="190.57" y1="19.9" x2="190.57" y2="22.10" stroke="#2b2b2b" stroke-width="1"/>
<line x1="190.57" y1="187.5" x2="190.57" y2="185.30" stroke="#2b2b2b" stroke-width="1"/>
<line x1="190.57" y1="187.5" x2="190.57" y2="189.70" stroke="#2b2b2b" stroke-width="1"/>
<line x1="190.57" y1="354.9" x2="190.57" y2="352.70" stroke="#2b2b2b" stroke-width="1"/>
<line x1="220.45" y1="19.9" x2="220.45" y2="23.70" stroke="#2b2b2b" stroke-width="1"/>
<line x1="220.45" y1="187.5" x2="220.45" y2="183.70" stroke="#2b2b2b" stroke-width="1"/>
<line x1="220.45" y1="187.5" x2="220.45" y2="191.30" stroke="#2b2b2b" stroke-width="1"/>
<line x1="220.45" y1="354.9" x2="220.45" y2="351.10" stroke="#2b2b2b" stroke-width="1"/>
<line x1="250.32" y1="19.9" x2="250.32" y2="22.10" stroke="#2b2b2b" stroke-width="1"/>
<line x1="250.32" y1="187.5" x2="250.32" y2="185.30" stroke="#2b2b2b" stroke-width="1"/>
<line x1="250.32" y1="187.5" x2="250.32" y2="189.70" stroke="#2b2b2b" stroke-width="1"/>
<line x1="250.32" y1="354.9" x2="250.32" y2="352.70" stroke="#2b2b2b" stroke-width="1"/>
<line x1="41.2" y1="172.00" x2="45.0" y2="172.00" stroke="#2b2b2b" stroke-width="1"/>
<line x1="256.5" y1="172.00" x2="252.7" y2="172.00" stroke="#2b2b2b" stroke-width="1"/>
<line x1="41.2" y1="152.50" x2="43.400000000000006" y2="152.50" stroke="#2b2b2b" stroke-width="1"/>
<line x1="256.5" y1="152.50" x2="254.3" y2="152.50" stroke="#2b2b2b" stroke-width="1"/>
<line x1="41.2" y1="133.00" x2="45.0" y2="133.00" stroke="#2b2b2b" stroke-width="1"/>
<line x1="256.5" y1="133.00" x2="252.7" y2="133.00" stroke="#2b2b2b" stroke-width="1"/>
<line x1="41.2" y1="113.50" x2="43.400000000000006" y2="113.50" stroke="#2b2b2b" stroke-width="1"/>
<line x1="256.5" y1="113.50" x2="254.3" y2="113.50" stroke="#2b2b2b" stroke-width="1"/>
<line x1="41.2" y1="94.00" x2="45.0" y2="94.00" stroke="#2b2b2b" stroke-width="1"/>
<line x1="256.5" y1="94.00" x2="252.7" y2="94.00" stroke="#2b2b2b" stroke-width="1"/>
<line x1="41.2" y1="74.50" x2="43.400000000000006" y2="74.50" stroke="#2b2b2b" stroke-width="1"/>
<line x1="256.5" y1="74.50" x2="254.3" y2="74.50" stroke="#2b2b2b" stroke-width="1"/>
<line x1="41.2" y1="55.00" x2="45.0" y2="55.00" stroke="#2b2b2b" stroke-width="1"/>
<line x1="256.5" y1="55.00" x2="252.7" y2="55.00" stroke="#2b2b2b" stroke-width="1"/>
<line x1="41.2" y1="35.50" x2="43.400000000000006" y2="35.50" stroke="#2b2b2b" stroke-width="1"/>
<line x1="256.5" y1="35.50" x2="254.3" y2="35.50" stroke="#2b2b2b" stroke-width="1"/>
<line x1="41.2" y1="339.00" x2="45.0" y2="339.00" stroke="#2b2b2b" stroke-width="1"/>
<line x1="256.5" y1="339.00" x2="252.7" y2="339.00" stroke="#2b2b2b" stroke-width="1"/>
<line x1="41.2" y1="319.60" x2="43.400000000000006" y2="319.60" stroke="#2b2b2b" stroke-width="1"/>
<line x1="256.5" y1="319.60" x2="254.3" y2="319.60" stroke="#2b2b2b" stroke-width="1"/>
<line x1="41.2" y1="300.20" x2="45.0" y2="300.20" stroke="#2b2b2b" stroke-width="1"/>
<line x1="256.5" y1="300.20" x2="252.7" y2="300.20" stroke="#2b2b2b" stroke-width="1"/>
<line x1="41.2" y1="280.80" x2="43.400000000000006" y2="280.80" stroke="#2b2b2b" stroke-width="1"/>
<line x1="256.5" y1="280.80" x2="254.3" y2="280.80" stroke="#2b2b2b" stroke-width="1"/>
<line x1="41.2" y1="261.40" x2="45.0" y2="261.40" stroke="#2b2b2b" stroke-width="1"/>
<line x1="256.5" y1="261.40" x2="252.7" y2="261.40" stroke="#2b2b2b" stroke-width="1"/>
<line x1="41.2" y1="242.00" x2="43.400000000000006" y2="242.00" stroke="#2b2b2b" stroke-width="1"/>
<line x1="256.5" y1="242.00" x2="254.3" y2="242.00" stroke="#2b2b2b" stroke-width="1"/>
<line x1="41.2" y1="222.60" x2="45.0" y2="222.60" stroke="#2b2b2b" stroke-width="1"/>
<line x1="256.5" y1="222.60" x2="252.7" y2="222.60" stroke="#2b2b2b" stroke-width="1"/>
<line x1="41.2" y1="203.20" x2="43.400000000000006" y2="203.20" stroke="#2b2b2b" stroke-width="1"/>
<line x1="256.5" y1="203.20" x2="254.3" y2="203.20" stroke="#2b2b2b" stroke-width="1"/>
<rect x="316.7" y="19.2" width="205.3" height="335.7" fill="none" stroke="#2b2b2b" stroke-width="1.2"/>
<line x1="316.7" y1="186.8" x2="522.0" y2="186.8" stroke="#2b2b2b" stroke-width="1.2"/>
<line x1="316.90" y1="19.2" x2="316.90" y2="23.00" stroke="#2b2b2b" stroke-width="1"/>
<line x1="316.90" y1="186.8" x2="316.90" y2="183.00" stroke="#2b2b2b" stroke-width="1"/>
<line x1="316.90" y1="186.8" x2="316.90" y2="190.60" stroke="#2b2b2b" stroke-width="1"/>
<line x1="316.90" y1="354.9" x2="316.90" y2="351.10" stroke="#2b2b2b" stroke-width="1"/>
<line x1="345.40" y1="19.2" x2="345.40" y2="21.40" stroke="#2b2b2b" stroke-width="1"/>
<line x1="345.40" y1="186.8" x2="345.40" y2="184.60" stroke="#2b2b2b" stroke-width="1"/>
<line x1="345.40" y1="186.8" x2="345.40" y2="189.00" stroke="#2b2b2b" stroke-width="1"/>
<line x1="345.40" y1="354.9" x2="345.40" y2="352.70" stroke="#2b2b2b" stroke-width="1"/>
<line x1="373.90" y1="19.2" x2="373.90" y2="23.00" stroke="#2b2b2b" stroke-width="1"/>
<line x1="373.90" y1="186.8" x2="373.90" y2="183.00" stroke="#2b2b2b" stroke-width="1"/>
<line x1="373.90" y1="186.8" x2="373.90" y2="190.60" stroke="#2b2b2b" stroke-width="1"/>
<line x1="373.90" y1="354.9" x2="373.90" y2="351.10" stroke="#2b2b2b" stroke-width="1"/>
<line x1="402.40" y1="19.2" x2="402.40" y2="21.40" stroke="#2b2b2b" stroke-width="1"/>
<line x1="402.40" y1="186.8" x2="402.40" y2="184.60" stroke="#2b2b2b" stroke-width="1"/>
<line x1="402.40" y1="186.8" x2="402.40" y2="189.00" stroke="#2b2b2b" stroke-width="1"/>
<line x1="402.40" y1="354.9" x2="402.40" y2="352.70" stroke="#2b2b2b" stroke-width="1"/>
<line x1="430.90" y1="19.2" x2="430.90" y2="23.00" stroke="#2b2b2b" stroke-width="1"/>
<line x1="430.90" y1="186.8" x2="430.90" y2="183.00" stroke="#2b2b2b" stroke-width="1"/>
<line x1="430.90" y1="186.8" x2="430.90" y2="190.60" stroke="#2b2b2b" stroke-width="1"/>
<line x1="430.90" y1="354.9" x2="430.90" y2="351.10" stroke="#2b2b2b" stroke-width="1"/>
<line x1="459.40" y1="19.2" x2="459.40" y2="21.40" stroke="#2b2b2b" stroke-width="1"/>
<line x1="459.40" y1="186.8" x2="459.40" y2="184.60" stroke="#2b2b2b" stroke-width="1"/>
<line x1="459.40" y1="186.8" x2="459.40" y2="189.00" stroke="#2b2b2b" stroke-width="1"/>
<line x1="459.40" y1="354.9" x2="459.40" y2="352.70" stroke="#2b2b2b" stroke-width="1"/>
<line x1="487.90" y1="19.2" x2="487.90" y2="23.00" stroke="#2b2b2b" stroke-width="1"/>
<line x1="487.90" y1="186.8" x2="487.90" y2="183.00" stroke="#2b2b2b" stroke-width="1"/>
<line x1="487.90" y1="186.8" x2="487.90" y2="190.60" stroke="#2b2b2b" stroke-width="1"/>
<line x1="487.90" y1="354.9" x2="487.90" y2="351.10" stroke="#2b2b2b" stroke-width="1"/>
<line x1="516.40" y1="19.2" x2="516.40" y2="21.40" stroke="#2b2b2b" stroke-width="1"/>
<line x1="516.40" y1="186.8" x2="516.40" y2="184.60" stroke="#2b2b2b" stroke-width="1"/>
<line x1="516.40" y1="186.8" x2="516.40" y2="189.00" stroke="#2b2b2b" stroke-width="1"/>
<line x1="516.40" y1="354.9" x2="516.40" y2="352.70" stroke="#2b2b2b" stroke-width="1"/>
<line x1="316.7" y1="170.70" x2="320.5" y2="170.70" stroke="#2b2b2b" stroke-width="1"/>
<line x1="522.0" y1="170.70" x2="518.2" y2="170.70" stroke="#2b2b2b" stroke-width="1"/>
<line x1="316.7" y1="151.20" x2="318.9" y2="151.20" stroke="#2b2b2b" stroke-width="1"/>
<line x1="522.0" y1="151.20" x2="519.8" y2="151.20" stroke="#2b2b2b" stroke-width="1"/>
<line x1="316.7" y1="131.70" x2="320.5" y2="131.70" stroke="#2b2b2b" stroke-width="1"/>
<line x1="522.0" y1="131.70" x2="518.2" y2="131.70" stroke="#2b2b2b" stroke-width="1"/>
<line x1="316.7" y1="112.20" x2="318.9" y2="112.20" stroke="#2b2b2b" stroke-width="1"/>
<line x1="522.0" y1="112.20" x2="519.8" y2="112.20" stroke="#2b2b2b" stroke-width="1"/>
<line x1="316.7" y1="92.70" x2="320.5" y2="92.70" stroke="#2b2b2b" stroke-width="1"/>
<line x1="522.0" y1="92.70" x2="518.2" y2="92.70" stroke="#2b2b2b" stroke-width="1"/>
<line x1="316.7" y1="73.20" x2="318.9" y2="73.20" stroke="#2b2b2b" stroke-width="1"/>
<line x1="522.0" y1="73.20" x2="519.8" y2="73.20" stroke="#2b2b2b" stroke-width="1"/>
<line x1="316.7" y1="53.70" x2="320.5" y2="53.70" stroke="#2b2b2b" stroke-width="1"/>
<line x1="522.0" y1="53.70" x2="518.2" y2="53.70" stroke="#2b2b2b" stroke-width="1"/>
<line x1="316.7" y1="34.20" x2="318.9" y2="34.20" stroke="#2b2b2b" stroke-width="1"/>
<line x1="522.0" y1="34.20" x2="519.8" y2="34.20" stroke="#2b2b2b" stroke-width="1"/>
<line x1="316.7" y1="338.20" x2="320.5" y2="338.20" stroke="#2b2b2b" stroke-width="1"/>
<line x1="522.0" y1="338.20" x2="518.2" y2="338.20" stroke="#2b2b2b" stroke-width="1"/>
<line x1="316.7" y1="318.85" x2="318.9" y2="318.85" stroke="#2b2b2b" stroke-width="1"/>
<line x1="522.0" y1="318.85" x2="519.8" y2="318.85" stroke="#2b2b2b" stroke-width="1"/>
<line x1="316.7" y1="299.50" x2="320.5" y2="299.50" stroke="#2b2b2b" stroke-width="1"/>
<line x1="522.0" y1="299.50" x2="518.2" y2="299.50" stroke="#2b2b2b" stroke-width="1"/>
<line x1="316.7" y1="280.15" x2="318.9" y2="280.15" stroke="#2b2b2b" stroke-width="1"/>
<line x1="522.0" y1="280.15" x2="519.8" y2="280.15" stroke="#2b2b2b" stroke-width="1"/>
<line x1="316.7" y1="260.80" x2="320.5" y2="260.80" stroke="#2b2b2b" stroke-width="1"/>
<line x1="522.0" y1="260.80" x2="518.2" y2="260.80" stroke="#2b2b2b" stroke-width="1"/>
<line x1="316.7" y1="241.45" x2="318.9" y2="241.45" stroke="#2b2b2b" stroke-width="1"/>
<line x1="522.0" y1="241.45" x2="519.8" y2="241.45" stroke="#2b2b2b" stroke-width="1"/>
<line x1="316.7" y1="222.10" x2="320.5" y2="222.10" stroke="#2b2b2b" stroke-width="1"/>
<line x1="522.0" y1="222.10" x2="518.2" y2="222.10" stroke="#2b2b2b" stroke-width="1"/>
<line x1="316.7" y1="202.75" x2="318.9" y2="202.75" stroke="#2b2b2b" stroke-width="1"/>
<line x1="522.0" y1="202.75" x2="519.8" y2="202.75" stroke="#2b2b2b" stroke-width="1"/>
<text x="60.9" y="9.8" font-family="'Liberation Sans', sans-serif" font-size="11.1" font-weight="bold" font-style="normal" fill="#111" text-anchor="start" textLength="169.9" lengthAdjust="spacingAndGlyphs" stroke="#111" stroke-width="0.39" >Applied Signal Frequency 50Hz</text>
<text x="335.6" y="9.2" font-family="'Liberation Sans', sans-serif" font-size="11.1" font-weight="bold" font-style="normal" fill="#111" text-anchor="start" textLength="168.4" lengthAdjust="spacingAndGlyphs" stroke="#111" stroke-width="0.39" >Applied Signal Frequency 500Hz</text>
<text x="49.6" y="33.0" font-family="'Liberation Sans', sans-serif" font-size="12.3" font-weight="bold" font-style="normal" fill="#111" text-anchor="start" textLength="15.2" lengthAdjust="spacingAndGlyphs" stroke="#111" stroke-width="0.43" >(a)</text>
<text x="49.0" y="200.6" font-family="'Liberation Sans', sans-serif" font-size="12.3" font-weight="bold" font-style="normal" fill="#111" text-anchor="start" textLength="15.6" lengthAdjust="spacingAndGlyphs" stroke="#111" stroke-width="0.43" >(b)</text>
<text x="324.0" y="32.2" font-family="'Liberation Sans', sans-serif" font-size="12.0" font-weight="bold" font-style="normal" fill="#111" text-anchor="start" textLength="15.0" lengthAdjust="spacingAndGlyphs" stroke="#111" stroke-width="0.42" >(c)</text>
<text x="323.8" y="199.4" font-family="'Liberation Sans', sans-serif" font-size="12.0" font-weight="bold" font-style="normal" fill="#111" text-anchor="start" textLength="16.2" lengthAdjust="spacingAndGlyphs" stroke="#111" stroke-width="0.42" >(d)</text>
<text x="47.8" y="51.0" font-family="'Liberation Sans', sans-serif" font-size="12.3" font-weight="bold" font-style="normal" fill="#ff0d0d" text-anchor="start" textLength="112.0" lengthAdjust="spacingAndGlyphs" stroke="#ff0d0d" stroke-width="0.43" >BBO/Nb-STO(001)</text>
<text x="47.0" y="218.2" font-family="'Liberation Sans', sans-serif" font-size="12.3" font-weight="bold" font-style="normal" fill="#161680" text-anchor="start" textLength="111.7" lengthAdjust="spacingAndGlyphs" stroke="#161680" stroke-width="0.43" >BBO/Nb-STO(110)</text>
<text x="322.4" y="50.7" font-family="'Liberation Sans', sans-serif" font-size="12.0" font-weight="bold" font-style="normal" fill="#ff0d0d" text-anchor="start" textLength="108.5" lengthAdjust="spacingAndGlyphs" stroke="#ff0d0d" stroke-width="0.42" >BBO/Nb-STO(001)</text>
<text x="322.3" y="217.4" font-family="'Liberation Sans', sans-serif" font-size="12.0" font-weight="bold" font-style="normal" fill="#161680" text-anchor="start" textLength="107.8" lengthAdjust="spacingAndGlyphs" stroke="#161680" stroke-width="0.42" >BBO/Nb-STO(110)</text>
<text x="37.5" y="174.8" font-family="'Liberation Sans', sans-serif" font-size="10.4" font-weight="bold" font-style="normal" fill="#111" text-anchor="end" textLength="5.45" lengthAdjust="spacingAndGlyphs" stroke="#111" stroke-width="0.25" >0</text>
<text x="37.5" y="341.8" font-family="'Liberation Sans', sans-serif" font-size="10.4" font-weight="bold" font-style="normal" fill="#111" text-anchor="end" textLength="5.45" lengthAdjust="spacingAndGlyphs" stroke="#111" stroke-width="0.25" >0</text>
<text x="313.2" y="173.5" font-family="'Liberation Sans', sans-serif" font-size="10.4" font-weight="bold" font-style="normal" fill="#111" text-anchor="end" textLength="5.45" lengthAdjust="spacingAndGlyphs" stroke="#111" stroke-width="0.25" >0</text>
<text x="313.2" y="341.0" font-family="'Liberation Sans', sans-serif" font-size="10.4" font-weight="bold" font-style="normal" fill="#111" text-anchor="end" textLength="5.45" lengthAdjust="spacingAndGlyphs" stroke="#111" stroke-width="0.25" >0</text>
<text x="37.5" y="135.8" font-family="'Liberation Sans', sans-serif" font-size="10.4" font-weight="bold" font-style="normal" fill="#111" text-anchor="end" textLength="10.9" lengthAdjust="spacingAndGlyphs" stroke="#111" stroke-width="0.25" >10</text>
<text x="37.5" y="303.0" font-family="'Liberation Sans', sans-serif" font-size="10.4" font-weight="bold" font-style="normal" fill="#111" text-anchor="end" textLength="10.9" lengthAdjust="spacingAndGlyphs" stroke="#111" stroke-width="0.25" >10</text>
<text x="313.2" y="134.5" font-family="'Liberation Sans', sans-serif" font-size="10.4" font-weight="bold" font-style="normal" fill="#111" text-anchor="end" textLength="10.9" lengthAdjust="spacingAndGlyphs" stroke="#111" stroke-width="0.25" >10</text>
<text x="313.2" y="302.3" font-family="'Liberation Sans', sans-serif" font-size="10.4" font-weight="bold" font-style="normal" fill="#111" text-anchor="end" textLength="10.9" lengthAdjust="spacingAndGlyphs" stroke="#111" stroke-width="0.25" >10</text>
<text x="37.5" y="96.8" font-family="'Liberation Sans', sans-serif" font-size="10.4" font-weight="bold" font-style="normal" fill="#111" text-anchor="end" textLength="10.9" lengthAdjust="spacingAndGlyphs" stroke="#111" stroke-width="0.25" >20</text>
<text x="37.5" y="264.2" font-family="'Liberation Sans', sans-serif" font-size="10.4" font-weight="bold" font-style="normal" fill="#111" text-anchor="end" textLength="10.9" lengthAdjust="spacingAndGlyphs" stroke="#111" stroke-width="0.25" >20</text>
<text x="313.2" y="95.49999999999999" font-family="'Liberation Sans', sans-serif" font-size="10.4" font-weight="bold" font-style="normal" fill="#111" text-anchor="end" textLength="10.9" lengthAdjust="spacingAndGlyphs" stroke="#111" stroke-width="0.25" >20</text>
<text x="313.2" y="263.59999999999997" font-family="'Liberation Sans', sans-serif" font-size="10.4" font-weight="bold" font-style="normal" fill="#111" text-anchor="end" textLength="10.9" lengthAdjust="spacingAndGlyphs" stroke="#111" stroke-width="0.25" >20</text>
<text x="37.5" y="57.8" font-family="'Liberation Sans', sans-serif" font-size="10.4" font-weight="bold" font-style="normal" fill="#111" text-anchor="end" textLength="10.9" lengthAdjust="spacingAndGlyphs" stroke="#111" stroke-width="0.25" >30</text>
<text x="37.5" y="225.40000000000003" font-family="'Liberation Sans', sans-serif" font-size="10.4" font-weight="bold" font-style="normal" fill="#111" text-anchor="end" textLength="10.9" lengthAdjust="spacingAndGlyphs" stroke="#111" stroke-width="0.25" >30</text>
<text x="313.2" y="56.499999999999986" font-family="'Liberation Sans', sans-serif" font-size="10.4" font-weight="bold" font-style="normal" fill="#111" text-anchor="end" textLength="10.9" lengthAdjust="spacingAndGlyphs" stroke="#111" stroke-width="0.25" >30</text>
<text x="313.2" y="224.89999999999998" font-family="'Liberation Sans', sans-serif" font-size="10.4" font-weight="bold" font-style="normal" fill="#111" text-anchor="end" textLength="10.9" lengthAdjust="spacingAndGlyphs" stroke="#111" stroke-width="0.25" >30</text>
<text x="41.40" y="365.8" font-family="'Liberation Sans', sans-serif" font-size="10.1" font-weight="bold" font-style="normal" fill="#111" text-anchor="middle" textLength="11.0" lengthAdjust="spacingAndGlyphs" stroke="#111" stroke-width="0.22" >50</text>
<text x="317.20" y="366.1" font-family="'Liberation Sans', sans-serif" font-size="10.0" font-weight="bold" font-style="normal" fill="#111" text-anchor="middle" textLength="10.7" lengthAdjust="spacingAndGlyphs" stroke="#111" stroke-width="0.22" >50</text>
<text x="101.15" y="365.8" font-family="'Liberation Sans', sans-serif" font-size="10.1" font-weight="bold" font-style="normal" fill="#111" text-anchor="middle" textLength="16.5" lengthAdjust="spacingAndGlyphs" stroke="#111" stroke-width="0.22" >100</text>
<text x="374.20" y="366.1" font-family="'Liberation Sans', sans-serif" font-size="10.0" font-weight="bold" font-style="normal" fill="#111" text-anchor="middle" textLength="16.05" lengthAdjust="spacingAndGlyphs" stroke="#111" stroke-width="0.22" >100</text>
<text x="160.90" y="365.8" font-family="'Liberation Sans', sans-serif" font-size="10.1" font-weight="bold" font-style="normal" fill="#111" text-anchor="middle" textLength="16.5" lengthAdjust="spacingAndGlyphs" stroke="#111" stroke-width="0.22" >150</text>
<text x="431.20" y="366.1" font-family="'Liberation Sans', sans-serif" font-size="10.0" font-weight="bold" font-style="normal" fill="#111" text-anchor="middle" textLength="16.05" lengthAdjust="spacingAndGlyphs" stroke="#111" stroke-width="0.22" >150</text>
<text x="220.65" y="365.8" font-family="'Liberation Sans', sans-serif" font-size="10.1" font-weight="bold" font-style="normal" fill="#111" text-anchor="middle" textLength="16.5" lengthAdjust="spacingAndGlyphs" stroke="#111" stroke-width="0.22" >200</text>
<text x="488.20" y="366.1" font-family="'Liberation Sans', sans-serif" font-size="10.0" font-weight="bold" font-style="normal" fill="#111" text-anchor="middle" textLength="16.05" lengthAdjust="spacingAndGlyphs" stroke="#111" stroke-width="0.22" >200</text>
<text x="149.8" y="380.1" font-family="'Liberation Sans', sans-serif" font-size="13.6" font-weight="bold" font-style="normal" fill="#111" text-anchor="middle" textLength="100.4" lengthAdjust="spacingAndGlyphs" stroke="#111" stroke-width="0.3" >Temperature (K)</text>
<text x="420.7" y="381.0" font-family="'Liberation Sans', sans-serif" font-size="13.2" font-weight="bold" font-style="normal" fill="#111" text-anchor="middle" textLength="95.6" lengthAdjust="spacingAndGlyphs" stroke="#111" stroke-width="0.3" >Temperature (K)</text>
<text transform="translate(21.8,114.9) rotate(-90)" font-family="'Liberation Sans', sans-serif" font-size="21.5" font-weight="bold" fill="#111" text-anchor="middle" textLength="10.6" lengthAdjust="spacingAndGlyphs">&#949;</text>
<text transform="translate(13.6,102.6) rotate(-90)" font-family="'Liberation Sans', sans-serif" font-size="17" font-weight="bold" fill="#111" text-anchor="middle">&#8243;</text>
<text transform="translate(21.8,282.9) rotate(-90)" font-family="'Liberation Sans', sans-serif" font-size="21.5" font-weight="bold" fill="#111" text-anchor="middle" textLength="10.6" lengthAdjust="spacingAndGlyphs">&#949;</text>
<text transform="translate(13.8,270.2) rotate(-90)" font-family="'Liberation Sans', sans-serif" font-size="17" font-weight="bold" fill="#111" text-anchor="middle">&#8243;</text>
<text transform="translate(298.0,114.3) rotate(-90)" font-family="'Liberation Sans', sans-serif" font-size="21.5" font-weight="bold" fill="#111" text-anchor="middle" textLength="10.6" lengthAdjust="spacingAndGlyphs">&#949;</text>
<text transform="translate(290.6,101.7) rotate(-90)" font-family="'Liberation Sans', sans-serif" font-size="17" font-weight="bold" fill="#111" text-anchor="middle">&#8243;</text>
<text transform="translate(297.7,282.3) rotate(-90)" font-family="'Liberation Sans', sans-serif" font-size="21.5" font-weight="bold" fill="#111" text-anchor="middle" textLength="10.6" lengthAdjust="spacingAndGlyphs">&#949;</text>
<text transform="translate(290.0,269.7) rotate(-90)" font-family="'Liberation Sans', sans-serif" font-size="17" font-weight="bold" fill="#111" text-anchor="middle">&#8243;</text>
<defs>
<linearGradient id="sg" x1="0" y1="0" x2="1" y2="0"><stop offset="0" stop-color="#12e8c8"/><stop offset="0.12" stop-color="#14d4e6"/><stop offset="0.4" stop-color="#12b0f0"/><stop offset="0.8" stop-color="#0c88ec"/><stop offset="1" stop-color="#0a66dc"/></linearGradient>
<clipPath id="cTOP"><circle cx="259.3" cy="469.6" r="9.5"/></clipPath>
<clipPath id="cUL"><circle cx="205.5" cy="510.7" r="9.45"/></clipPath>
<clipPath id="cUR"><circle cx="317.3" cy="502.9" r="9.35"/></clipPath>
<clipPath id="cL"><circle cx="152.4" cy="551.9" r="9.6"/></clipPath>
<clipPath id="cC"><circle cx="264.3" cy="544.8" r="9.45"/></clipPath>
<clipPath id="cR"><circle cx="376.2" cy="543.3" r="9.45"/></clipPath>
<clipPath id="cLL"><circle cx="211.2" cy="592.0" r="9.45"/></clipPath>
<clipPath id="cLR"><circle cx="323.1" cy="591.0" r="9.45"/></clipPath>
<clipPath id="cB"><circle cx="270.1" cy="632.5" r="9.45"/></clipPath>
<marker id="ah" viewBox="0 0 10 10" refX="9.6" refY="5" markerWidth="10" markerHeight="10" markerUnits="userSpaceOnUse" orient="auto"><path d="M9.6,5 L3.6,1.9 L5.3,5 L3.6,8.1 Z" fill="#111" stroke="#111" stroke-width="0.6" stroke-linejoin="round"/></marker>
</defs>
<line x1="259.0" y1="471.2" x2="205.2" y2="512.3" stroke="#979797" stroke-width="1.05"/>
<line x1="259.0" y1="471.2" x2="317.0" y2="504.5" stroke="#979797" stroke-width="1.05"/>
<line x1="205.2" y1="512.3" x2="264.0" y2="546.4" stroke="#979797" stroke-width="1.05"/>
<line x1="317.0" y1="504.5" x2="264.0" y2="546.4" stroke="#979797" stroke-width="1.05"/>
<line x1="317.0" y1="504.5" x2="375.9" y2="544.9" stroke="#979797" stroke-width="1.05"/>
<line x1="152.1" y1="553.5" x2="210.9" y2="593.6" stroke="#979797" stroke-width="1.05"/>
<line x1="264.0" y1="546.4" x2="210.9" y2="593.6" stroke="#979797" stroke-width="1.05"/>
<line x1="264.0" y1="546.4" x2="322.8" y2="592.6" stroke="#979797" stroke-width="1.05"/>
<line x1="375.9" y1="544.9" x2="322.8" y2="592.6" stroke="#979797" stroke-width="1.05"/>
<line x1="210.9" y1="593.6" x2="269.8" y2="634.1" stroke="#979797" stroke-width="1.05"/>
<line x1="322.8" y1="592.6" x2="269.8" y2="634.1" stroke="#979797" stroke-width="1.05"/>
<line x1="210.9" y1="593.6" x2="322.8" y2="592.6" stroke="#979797" stroke-width="1.05"/>
<line x1="152.1" y1="553.5" x2="205.2" y2="512.3" stroke="#111" stroke-width="1.35"/>
<line x1="211.2" y1="592.0" x2="366.8" y2="592.0" stroke="#111" stroke-width="1.7" marker-end="url(#ah)"/>
<path d="M212.4,582.7 C212.4,560 232,542.2 254.8,542.2" fill="none" stroke="#111" stroke-width="1.6" stroke-dasharray="4,2.6"/>
<path d="M218.7,586.1 C240,576 290,575 313.8,586.8" fill="none" stroke="#111" stroke-width="1.6" stroke-dasharray="4,2.6"/>
<circle cx="259.3" cy="469.6" r="9.5" fill="url(#sg)" stroke="#1e1a1c" stroke-width="1"/>
<line x1="259.0" y1="471.2" x2="205.2" y2="512.3" stroke="#1c3446" stroke-width="1.1" clip-path="url(#cTOP)"/>
<line x1="259.0" y1="471.2" x2="317.0" y2="504.5" stroke="#1c3446" stroke-width="1.1" clip-path="url(#cTOP)"/>
<circle cx="205.5" cy="510.7" r="9.45" fill="url(#sg)" stroke="#1e1a1c" stroke-width="1"/>
<line x1="205.2" y1="512.3" x2="152.1" y2="553.5" stroke="#111" stroke-width="1.1" clip-path="url(#cUL)"/>
<line x1="205.2" y1="512.3" x2="264.0" y2="546.4" stroke="#1c3446" stroke-width="1.1" clip-path="url(#cUL)"/>
<circle cx="317.3" cy="502.9" r="9.35" fill="url(#sg)" stroke="#1e1a1c" stroke-width="1"/>
<line x1="317.0" y1="504.5" x2="264.0" y2="546.4" stroke="#1c3446" stroke-width="1.1" clip-path="url(#cUR)"/>
<line x1="317.0" y1="504.5" x2="375.9" y2="544.9" stroke="#1c3446" stroke-width="1.1" clip-path="url(#cUR)"/>
<circle cx="152.4" cy="551.9" r="9.6" fill="url(#sg)" stroke="#1e1a1c" stroke-width="1"/>
<line x1="152.1" y1="553.5" x2="210.9" y2="593.6" stroke="#1c3446" stroke-width="1.1" clip-path="url(#cL)"/>
<circle cx="264.3" cy="544.8" r="9.45" fill="url(#sg)" stroke="#1e1a1c" stroke-width="1"/>
<line x1="264.0" y1="546.4" x2="210.9" y2="593.6" stroke="#1c3446" stroke-width="1.1" clip-path="url(#cC)"/>
<line x1="264.0" y1="546.4" x2="322.8" y2="592.6" stroke="#1c3446" stroke-width="1.1" clip-path="url(#cC)"/>
<circle cx="376.2" cy="543.3" r="9.45" fill="url(#sg)" stroke="#1e1a1c" stroke-width="1"/>
<line x1="375.9" y1="544.9" x2="322.8" y2="592.6" stroke="#1c3446" stroke-width="1.1" clip-path="url(#cR)"/>
<circle cx="211.2" cy="592.0" r="9.45" fill="url(#sg)" stroke="#1e1a1c" stroke-width="1"/>
<line x1="210.9" y1="593.6" x2="269.8" y2="634.1" stroke="#1c3446" stroke-width="1.1" clip-path="url(#cLL)"/>
<circle cx="323.1" cy="591.0" r="9.45" fill="url(#sg)" stroke="#1e1a1c" stroke-width="1"/>
<line x1="322.8" y1="592.6" x2="269.8" y2="634.1" stroke="#1c3446" stroke-width="1.1" clip-path="url(#cLR)"/>
<circle cx="270.1" cy="632.5" r="9.45" fill="url(#sg)" stroke="#1e1a1c" stroke-width="1"/>
<line x1="323.1" y1="592.0" x2="332.55" y2="592.0" stroke="#111" stroke-width="1.7"/>
<line x1="349.8" y1="481.9" x2="348.6" y2="427.4" stroke="#111" stroke-width="1.6" marker-end="url(#ah)"/>
<line x1="349.8" y1="481.9" x2="377.0" y2="461.4" stroke="#111" stroke-width="1.6" marker-end="url(#ah)"/>
<line x1="349.8" y1="481.9" x2="382.4" y2="499.9" stroke="#111" stroke-width="1.6" marker-end="url(#ah)"/>
<text x="118.2" y="427.8" font-family="'Liberation Sans', sans-serif" font-size="14.5" font-weight="bold" font-style="normal" fill="#111" text-anchor="start" textLength="18.4" lengthAdjust="spacingAndGlyphs" stroke="#111" stroke-width="0.6" >(e)</text>
<text x="323.2" y="416.2" font-family="'Liberation Serif', serif" font-size="14.2" font-weight="bold" font-style="normal" fill="#111" text-anchor="start" textLength="36.2" lengthAdjust="spacingAndGlyphs" stroke="#111" stroke-width="0.43" >[001]</text>
<text x="382.0" y="458.3" font-family="'Liberation Serif', serif" font-size="14.2" font-weight="bold" font-style="normal" fill="#111" text-anchor="start" textLength="36.3" lengthAdjust="spacingAndGlyphs" stroke="#111" stroke-width="0.43" >[010]</text>
<text x="363.6" y="514.0" font-family="'Liberation Serif', serif" font-size="14.2" font-weight="bold" font-style="normal" fill="#111" text-anchor="start" textLength="35.5" lengthAdjust="spacingAndGlyphs" stroke="#111" stroke-width="0.43" >[100]</text>
<text x="371.1" y="593.4" font-family="'Liberation Serif', serif" font-size="14.2" font-weight="bold" font-style="normal" fill="#111" text-anchor="start" textLength="36.1" lengthAdjust="spacingAndGlyphs" stroke="#111" stroke-width="0.43" >[110]</text>
<text x="304.3" y="483.6" font-family="'Liberation Serif', serif" font-size="15.6" font-weight="bold" font-style="italic" fill="#111" text-anchor="start" textLength="14.9" lengthAdjust="spacingAndGlyphs" stroke="#111" stroke-width="0.45">Bi</text>
<text x="320.40000000000003" y="478.3" font-family="'Liberation Serif', serif" font-size="11.2" font-weight="bold" font-style="normal" fill="#111" text-anchor="start" textLength="13.9" lengthAdjust="spacingAndGlyphs" stroke="#111" stroke-width="0.3">+5</text>
<text x="109.7" y="538.1" font-family="'Liberation Serif', serif" font-size="15.6" font-weight="bold" font-style="italic" fill="#111" text-anchor="start" textLength="14.9" lengthAdjust="spacingAndGlyphs" stroke="#111" stroke-width="0.45">Bi</text>
<text x="125.8" y="532.8000000000001" font-family="'Liberation Serif', serif" font-size="11.2" font-weight="bold" font-style="normal" fill="#111" text-anchor="start" textLength="13.9" lengthAdjust="spacingAndGlyphs" stroke="#111" stroke-width="0.3">+3</text>
<text x="249.29999999999998" y="525.5" font-family="'Liberation Serif', serif" font-size="15.6" font-weight="bold" font-style="italic" fill="#111" text-anchor="start" textLength="14.9" lengthAdjust="spacingAndGlyphs" stroke="#111" stroke-width="0.45">Bi</text>
<text x="265.4" y="520.2" font-family="'Liberation Serif', serif" font-size="11.2" font-weight="bold" font-style="normal" fill="#111" text-anchor="start" textLength="13.9" lengthAdjust="spacingAndGlyphs" stroke="#111" stroke-width="0.3">+3</text>
<text x="165.7" y="598.4" font-family="'Liberation Serif', serif" font-size="15.6" font-weight="bold" font-style="italic" fill="#111" text-anchor="start" textLength="14.9" lengthAdjust="spacingAndGlyphs" stroke="#111" stroke-width="0.45">Bi</text>
<text x="181.8" y="593.1" font-family="'Liberation Serif', serif" font-size="11.2" font-weight="bold" font-style="normal" fill="#111" text-anchor="start" textLength="13.9" lengthAdjust="spacingAndGlyphs" stroke="#111" stroke-width="0.3">+5</text>
<text x="314.7" y="571.2" font-family="'Liberation Serif', serif" font-size="15.6" font-weight="bold" font-style="italic" fill="#111" text-anchor="start" textLength="14.9" lengthAdjust="spacingAndGlyphs" stroke="#111" stroke-width="0.45">Bi</text>
<text x="330.8" y="565.9000000000001" font-family="'Liberation Serif', serif" font-size="11.2" font-weight="bold" font-style="normal" fill="#111" text-anchor="start" textLength="13.9" lengthAdjust="spacingAndGlyphs" stroke="#111" stroke-width="0.3">+5</text>
<text x="225.2" y="641.0" font-family="'Liberation Serif', serif" font-size="15.6" font-weight="bold" font-style="italic" fill="#111" text-anchor="start" textLength="14.9" lengthAdjust="spacingAndGlyphs" stroke="#111" stroke-width="0.45">Bi</text>
<text x="241.3" y="635.7" font-family="'Liberation Serif', serif" font-size="11.2" font-weight="bold" font-style="normal" fill="#111" text-anchor="start" textLength="13.9" lengthAdjust="spacingAndGlyphs" stroke="#111" stroke-width="0.3">+3</text>
<text x="167.8" y="525.7" font-family="'Liberation Serif', serif" font-size="15.0" font-weight="bold" font-style="normal" fill="#111" text-anchor="start" textLength="7.0" lengthAdjust="spacingAndGlyphs" stroke="#111" stroke-width="0.45" >a</text>
<text x="207.6" y="546.6" font-family="'Liberation Serif', serif" font-size="16.0" font-weight="bold" font-style="italic" fill="#111" text-anchor="start" textLength="6.6" lengthAdjust="spacingAndGlyphs" stroke="#111" stroke-width="0.6" >t</text>
<text x="214.8" y="549.7" font-family="'Liberation Serif', serif" font-size="11.0" font-weight="bold" font-style="normal" fill="#111" text-anchor="start" textLength="5.0" lengthAdjust="spacingAndGlyphs" stroke="#111" stroke-width="0.33" >1</text>
<text x="259.2" y="568.6" font-family="'Liberation Serif', serif" font-size="16.0" font-weight="bold" font-style="italic" fill="#111" text-anchor="start" textLength="6.6" lengthAdjust="spacingAndGlyphs" stroke="#111" stroke-width="0.6" >t</text>
<text x="265.8" y="571.7" font-family="'Liberation Serif', serif" font-size="11.0" font-weight="bold" font-style="normal" fill="#111" text-anchor="start" textLength="5.6" lengthAdjust="spacingAndGlyphs" stroke="#111" stroke-width="0.33" >2</text>
</svg>
</body></html>
